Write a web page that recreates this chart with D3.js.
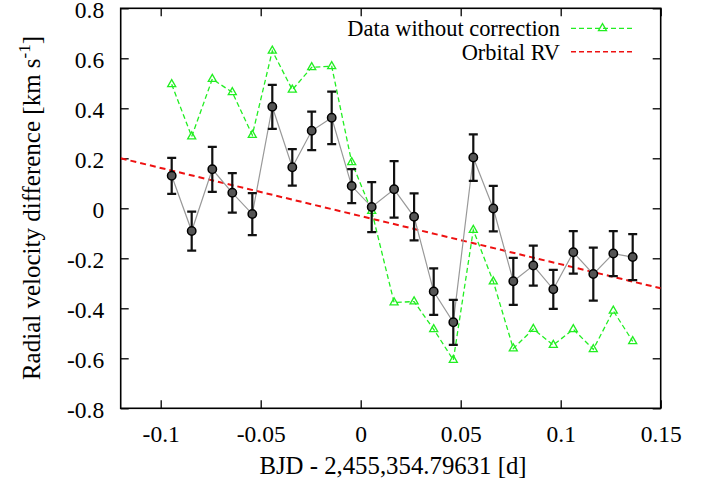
<!DOCTYPE html>
<html><head><meta charset="utf-8">
<script src="https://cdnjs.cloudflare.com/ajax/libs/d3/7.8.5/d3.min.js"></script>
<style>html,body{margin:0;padding:0;background:#fff}svg{display:block}text{font-family:"Liberation Serif","Times New Roman",serif}</style>
</head><body><svg id="c" width="713" height="483"></svg>
<script>
const times = [-0.0945,-0.0845,-0.0742,-0.0642,-0.0542,-0.0442,-0.0342,-0.0245,-0.0145,-0.0045,0.0055,0.0167,0.0267,0.0365,0.0463,0.0563,0.0663,0.0763,0.0863,0.0963,0.1063,0.1163,0.1263,0.1360];
const rvCorrected = [0.130,-0.091,0.156,0.062,-0.023,0.406,0.164,0.310,0.362,0.089,0.005,0.076,-0.034,-0.333,-0.456,0.203,-0.001,-0.292,-0.229,-0.324,-0.176,-0.263,-0.181,-0.195];
const rvError = [0.072,0.078,0.090,0.079,0.084,0.088,0.073,0.077,0.105,0.068,0.100,0.113,0.094,0.093,0.090,0.093,0.091,0.094,0.080,0.078,0.085,0.106,0.090,0.092];
const rvUncorrected = [0.496,0.287,0.517,0.464,0.293,0.630,0.474,0.564,0.568,0.184,-0.011,-0.377,-0.373,-0.484,-0.607,-0.087,-0.293,-0.561,-0.483,-0.547,-0.484,-0.564,-0.410,-0.532];
const orbitalX = [-0.12, 0.15];
const orbitalY = [0.200, -0.320];
const xTicks = [-0.1,-0.05,0,0.05,0.1,0.15];
const yTicks = [-0.8,-0.6,-0.4,-0.2,0,0.2,0.4,0.6,0.8];
const legendLabels = ["Data without correction","Orbital RV"];

const FONT = '"Liberation Serif","Times New Roman",serif';
const svg = d3.select("#c");
const L=120.7, R=660.7, T=8.3, B=408.3;
const x = d3.scaleLinear().domain([-0.12,0.15]).range([L,R]);
const y = d3.scaleLinear().domain([-0.8,0.8]).range([B,T]);
const fmt = d => d===0 ? "0" : String(d);
const tl = 8;

// axes
const gb = svg.append("g").attr("transform",`translate(0,${B})`)
  .call(d3.axisBottom(x).tickValues(xTicks).tickFormat(fmt).tickSizeInner(-tl).tickSizeOuter(0).tickPadding(17.5));
const gt = svg.append("g").attr("transform",`translate(0,${T})`)
  .call(d3.axisTop(x).tickValues(xTicks).tickFormat("").tickSizeInner(-tl).tickSizeOuter(0));
const gl = svg.append("g").attr("transform",`translate(${L},0)`)
  .call(d3.axisLeft(y).tickValues(yTicks).tickFormat(fmt).tickSizeInner(-tl).tickSizeOuter(0).tickPadding(16.5));
const gr = svg.append("g").attr("transform",`translate(${R},0)`)
  .call(d3.axisRight(y).tickValues(yTicks).tickFormat("").tickSizeInner(-tl).tickSizeOuter(0));
[gb,gt,gl,gr].forEach(g=>{
  g.attr("font-family",FONT);
  g.select(".domain").remove();
  g.selectAll(".tick line").attr("stroke","#000").attr("stroke-width",1.3);
  g.selectAll(".tick text").attr("font-size",23.5).attr("fill","#000");
});
gb.selectAll(".tick text").attr("dy","0.71em");
gl.selectAll(".tick text").attr("dy","0.38em");
svg.append("rect").attr("x",L).attr("y",T).attr("width",R-L).attr("height",B-T)
  .attr("fill","none").attr("stroke","#000").attr("stroke-width",1.6);

// axis labels
svg.append("text").attr("x",393).attr("y",474.3).attr("text-anchor","middle")
  .attr("font-size",24.8).text("BJD - 2,455,354.79631 [d]");
const yl = svg.append("text").attr("transform",`translate(39.5,208) rotate(-90)`)
  .attr("text-anchor","middle").attr("font-size",25);
yl.append("tspan").text("Radial velocity difference [km s");
yl.append("tspan").attr("font-size",17).attr("dy",-10).text("-1");
yl.append("tspan").attr("dy",10).text("]");

svg.append("clipPath").attr("id","pc").append("rect")
  .attr("x",L).attr("y",T).attr("width",R-L).attr("height",B-T);
const plot = svg.append("g").attr("clip-path","url(#pc)");

// orbital RV
plot.append("line").attr("x1",x(orbitalX[0])).attr("y1",y(orbitalY[0]))
  .attr("x2",x(orbitalX[1])).attr("y2",y(orbitalY[1]))
  .attr("stroke","#ee1111").attr("stroke-width",2).attr("stroke-dasharray","6,4");

// uncorrected
const idx = d3.range(times.length);
plot.append("path").datum(idx).attr("fill","none").attr("stroke","#22ee22").attr("stroke-width",1.3)
  .attr("stroke-dasharray","5,3")
  .attr("d",d3.line().x(i=>x(times[i])).y(i=>y(rvUncorrected[i])));
const tri = d3.symbol().type(d3.symbolTriangle).size(28);
plot.selectAll(".tri").data(idx).join("path").attr("class","tri")
  .attr("transform",i=>`translate(${x(times[i])},${y(rvUncorrected[i])})`)
  .attr("d",tri()).attr("fill","none").attr("stroke","#22ee22").attr("stroke-width",1.3);

// corrected
plot.append("path").datum(idx).attr("fill","none").attr("stroke","#999").attr("stroke-width",1.2)
  .attr("d",d3.line().x(i=>x(times[i])).y(i=>y(rvCorrected[i])));
const eb = plot.selectAll(".eb").data(idx).join("g").attr("class","eb")
  .attr("stroke","#111").attr("stroke-width",2.2);
eb.append("line").attr("x1",i=>x(times[i])).attr("x2",i=>x(times[i]))
  .attr("y1",i=>y(rvCorrected[i]+rvError[i])).attr("y2",i=>y(rvCorrected[i]-rvError[i]));
eb.append("line").attr("x1",i=>x(times[i])-4.5).attr("x2",i=>x(times[i])+4.5)
  .attr("y1",i=>y(rvCorrected[i]+rvError[i])).attr("y2",i=>y(rvCorrected[i]+rvError[i]));
eb.append("line").attr("x1",i=>x(times[i])-4.5).attr("x2",i=>x(times[i])+4.5)
  .attr("y1",i=>y(rvCorrected[i]-rvError[i])).attr("y2",i=>y(rvCorrected[i]-rvError[i]));
plot.selectAll(".pt").data(idx).join("circle").attr("class","pt")
  .attr("cx",i=>x(times[i])).attr("cy",i=>y(rvCorrected[i])).attr("r",4.2)
  .attr("fill","#555").attr("stroke","#000").attr("stroke-width",1.5);

// legend
const lg = svg.append("g");
lg.append("text").attr("x",560).attr("y",36.2).attr("text-anchor","end")
  .attr("font-size",22.4).text(legendLabels[0]);
lg.append("line").attr("x1",571).attr("x2",634).attr("y1",28.3).attr("y2",28.3)
  .attr("stroke","#22ee22").attr("stroke-width",1.3).attr("stroke-dasharray","5,3");
lg.append("path").attr("transform","translate(602.5,28.3)").attr("d",tri())
  .attr("fill","none").attr("stroke","#22ee22").attr("stroke-width",1.3);
lg.append("text").attr("x",560).attr("y",59.6).attr("text-anchor","end")
  .attr("font-size",22.4).text(legendLabels[1]);
lg.append("line").attr("x1",571).attr("x2",634).attr("y1",51.7).attr("y2",51.7)
  .attr("stroke","#ee1111").attr("stroke-width",1.5).attr("stroke-dasharray","5,3");
</script></body></html>
